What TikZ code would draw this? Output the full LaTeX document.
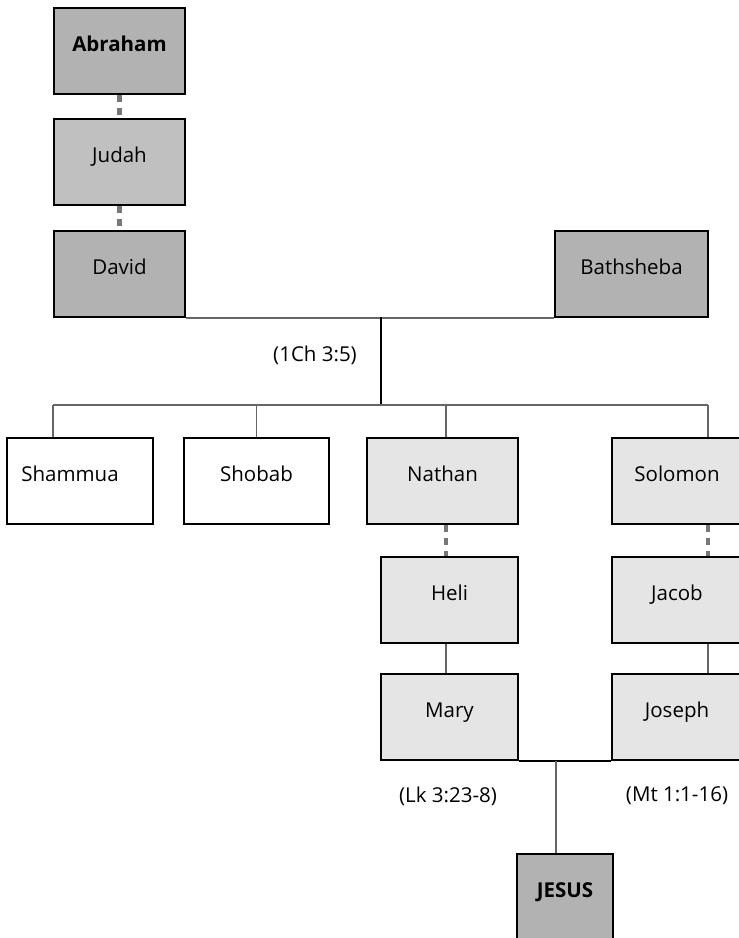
\documentclass[tikz,border=0pt]{standalone}
\usepackage{fontspec}
\setmainfont{Open Sans}
\usepackage{tikz}
\usetikzlibrary{positioning,calc}

\definecolor{darkfill}{HTML}{B2B2B2}
\definecolor{midfill}{HTML}{C0C0C0}
\definecolor{lightfill}{HTML}{E5E5E5}
\definecolor{linegray}{HTML}{666666}
\definecolor{dotgray}{HTML}{777777}

\tikzset{
	person/.style={draw=black, line width=1.8bp, inner sep=0pt, anchor=north, text height=43.5bp, text depth=42.5bp, font=\fontsize{20.5bp}{24bp}\selectfont},
	famline/.style={draw=linegray, line width=1.6bp},
	dotline/.style={draw=dotgray, line width=4.5bp, dash pattern=on 7bp off 6bp},
	ref/.style={font=\fontsize{20.5bp}{24bp}\selectfont}
}

\begin{document}
\begin{tikzpicture}[x=1bp, y=-1bp]
	\useasboundingbox (0,0) rectangle (739,938);
	
	% line of David
	\node[person, fill=darkfill, minimum width=131bp] (abraham) at (119.5,7) {\textbf{Abraham}};
	\node[person, fill=midfill, minimum width=131bp] (judah) at (119.5,118) {Judah};
	\node[person, fill=darkfill, minimum width=131bp] (david) at (119.5,230) {David};
	\node[person, fill=darkfill, minimum width=153bp] (bathsheba) at (631.5,230) {Bathsheba};
	
	% sons
	\node[person, fill=white, minimum width=146bp] (shammua) at (80,437) {Shammua\hspace*{20bp}};
	\node[person, fill=white, minimum width=145bp] (shobab) at (256.5,437) {Shobab};
	\node[person, fill=lightfill, minimum width=151bp] (nathan) at (442.5,437) {Nathan};
	\node[person, fill=lightfill, minimum width=130bp] (solomon) at (677,437) {Solomon};
	
	\node[person, fill=lightfill, minimum width=137bp] (heli) at (449.5,556) {Heli};
	\node[person, fill=lightfill, minimum width=130bp] (jacob) at (677,556) {Jacob};
	\node[person, fill=lightfill, minimum width=137bp] (mary) at (449.5,673) {Mary};
	\node[person, fill=lightfill, minimum width=130bp] (joseph) at (677,673) {Joseph};
	\node[person, fill=darkfill, minimum width=96bp] (jesus) at (565,853) {\textbf{JESUS}};
	
	\node[ref] (chron) at (315,355) {(1Ch 3:5)};
	\node[ref] (luke) at (448,796) {(Lk 3:23-8)};
	\node[ref] (matt) at (677,796) {(Mt 1:1-16)};
	
	\coordinate (dbjoin) at (381,317);
	\coordinate (busL) at (53,405);
	\coordinate (busR) at (708,405);
	\coordinate (lk) at (446,405);
	\coordinate (mt) at (708,405);
	\coordinate (mjjoin) at (556,761);
	
	\draw[dotline] (abraham) -- (judah);
	\draw[dotline] (judah) -- (david);
	\draw[famline] (david.south east) -- (bathsheba.south west);
	\draw[draw=black, line width=1.8bp] (dbjoin) -- (dbjoin |- busL);
	\draw[famline] (busL) -- (busR);
	\draw[famline] (busL) -- (busL |- shammua.north);
	\draw[famline] (shobab.north |- busL) -- (shobab.north);
	\draw[famline] (lk) -- (lk |- nathan.north);
	\draw[famline] (mt) -- (mt |- solomon.north);
	\draw[dotline] (lk |- nathan.south) -- (lk |- heli.north);
	\draw[dotline] (mt |- solomon.south) -- (mt |- jacob.north);
	\draw[famline] (lk |- heli.south) -- (lk |- mary.north);
	\draw[famline] (mt |- jacob.south) -- (mt |- joseph.north);
	\draw[draw=black, line width=1.8bp] (mary.south east) -- (joseph.south west);
	\draw[famline] (mjjoin) -- (mjjoin |- jesus.north);
\end{tikzpicture}
\end{document}
